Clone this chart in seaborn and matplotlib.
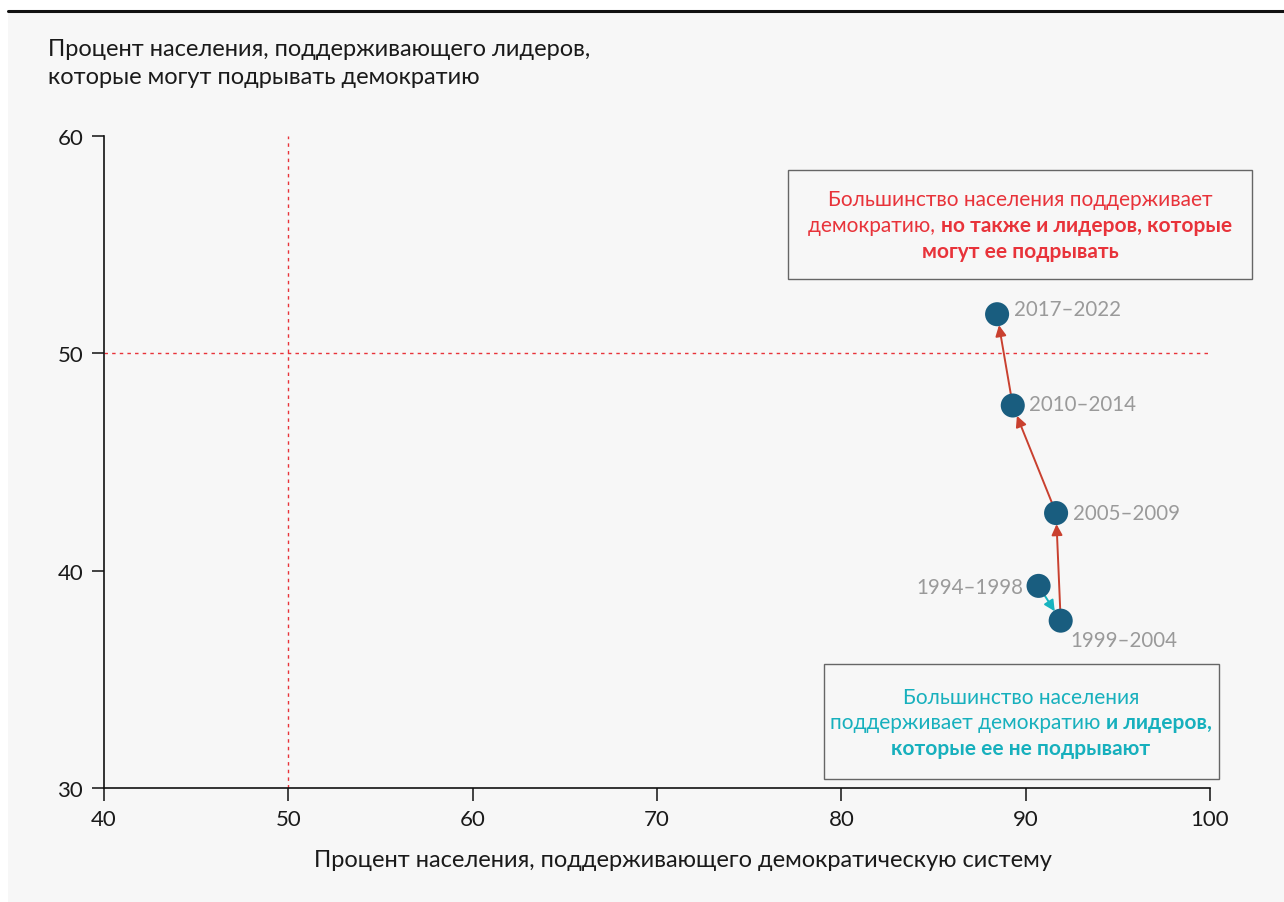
import matplotlib
matplotlib.use("Agg")
import matplotlib.pyplot as plt
import seaborn as sns
import pandas as pd
from matplotlib.patches import Rectangle
from matplotlib.lines import Line2D

# ---- data ----
periods = ["1994–1998", "1999–2004", "2005–2009", "2010–2014", "2017–2022"]
support_democracy = [90.7, 91.9, 91.65, 89.3, 88.45]
support_leaders = [39.3, 37.7, 42.65, 47.6, 51.8]
arrow_colors = ["#17b3bf", "#c9402f", "#c9402f", "#c9402f"]
x_ticks = [40, 50, 60, 70, 80, 90, 100]
y_ticks = [30, 40, 50, 60]

y_title = "Процент населения, поддерживающего лидеров,\nкоторые могут подрывать демократию"
x_title = "Процент населения, поддерживающего демократическую систему"

BG = "#f7f7f7"
RED = "#e8333a"
TEAL = "#17b0bd"
DOT = "#195d7f"
GRAY = "#9a9a9a"

sns.set_theme(style="white")
plt.rcParams["font.family"] = ["Lato", "DejaVu Sans"]

W, H = 1284, 903
fig = plt.figure(figsize=(W / 100, H / 100), dpi=100)
fig.patch.set_facecolor("white")
fig.patches.append(Rectangle((8 / W, 0), 1 - 8 / W, 1 - 13 / H, transform=fig.transFigure,
                             facecolor=BG, edgecolor="none", zorder=-10))
fig.lines.append(Line2D([8 / W, 1], [1 - 12 / H, 1 - 12 / H], transform=fig.transFigure,
                        color="#111111", lw=2.2))

ax = fig.add_axes([104 / W, 1 - 789 / H, (1210 - 104) / W, (789 - 137) / H])
ax.set_facecolor(BG)
ax.set_xlim(40, 100)
ax.set_ylim(30, 60)
ax.set_xticks(x_ticks)
ax.set_yticks(y_ticks)
for s in ["top", "right"]:
    ax.spines[s].set_visible(False)
for s in ["left", "bottom"]:
    ax.spines[s].set_color("#111111")
    ax.spines[s].set_linewidth(1.2)
ax.tick_params(axis="both", direction="out", length=9, width=1.1, color="#111111",
               labelsize=16, labelcolor="#1a1a1a", pad=6, left=True, bottom=True)

# reference lines
ax.plot([50, 50], [30, 60], color=RED, lw=1, ls=(0, (2.5, 3)), zorder=1)
ax.plot([40, 100], [50, 50], color=RED, lw=1, ls=(0, (2.5, 3)), zorder=1)

df = pd.DataFrame({"period": periods, "dem": support_democracy, "lead": support_leaders})

# arrows
for i in range(len(df) - 1):
    ax.annotate("", xy=(df.dem[i + 1], df.lead[i + 1]), xytext=(df.dem[i], df.lead[i]),
                arrowprops=dict(arrowstyle="-|>", color=arrow_colors[i], lw=1.4,
                                shrinkA=0, shrinkB=8, mutation_scale=16),
                zorder=2)

sns.scatterplot(data=df, x="dem", y="lead", ax=ax, s=300, color=DOT, edgecolor="none",
                zorder=3, legend=False)
ax.set_xlabel("")
ax.set_ylabel("")

# period labels (offsets in points)
offsets = {
    "1994–1998": (-11, -1, "right"),
    "1999–2004": (7, -14, "left"),
    "2005–2009": (12, 0, "left"),
    "2010–2014": (12, 1, "left"),
    "2017–2022": (12, 4, "left"),
}
for _, r in df.iterrows():
    dx, dy, ha = offsets[r.period]
    ax.annotate(r.period, (r.dem, r.lead), xytext=(dx, dy), textcoords="offset points",
                ha=ha, va="center", fontsize=14.8, color=GRAY)

# axis titles
fig.text(48 / W, 1 - 39 / H, y_title, ha="left", va="top", fontsize=17, color="#1a1a1a",
         linespacing=1.42)
fig.text(683 / W, 1 - 861 / H, x_title, ha="center", va="center", fontsize=17, color="#1a1a1a")

# boxes
for (x0, y0, x1, y1) in [(788, 171, 1252, 280), (824, 665, 1219, 780)]:
    fig.patches.append(Rectangle((x0 / W, 1 - y1 / H), (x1 - x0) / W, (y1 - y0) / H,
                                 transform=fig.transFigure, facecolor="none",
                                 edgecolor="#666666", lw=1.0, zorder=5))

fig.canvas.draw()
renderer = fig.canvas.get_renderer()


def segline(cx, cy, segs, color, size=15):
    texts = []
    for s, bold in segs:
        t = fig.text(0, 1 - cy / H, s, ha="left", va="center", fontsize=size, color=color,
                     fontweight="bold" if bold else "normal")
        texts.append(t)
    widths = [t.get_window_extent(renderer).width for t in texts]
    total = sum(widths)
    x = cx - total / 2
    for t, w in zip(texts, widths):
        t.set_x(x / W)
        x += w


red_lines = [
    [("Большинство населения поддерживает", False)],
    [("демократию, ", False), ("но также и лидеров, которые", True)],
    [("могут ее подрывать", True)],
]
for yy, segs in zip([200, 226, 252], red_lines):
    segline(1020, yy, segs, RED)

teal_lines = [
    [("Большинство населения", False)],
    [("поддерживает демократию ", False), ("и лидеров,", True)],
    [("которые ее не подрывают", True)],
]
for yy, segs in zip([698, 723, 749], teal_lines):
    segline(1021, yy, segs, TEAL)

fig.savefig("out.png", dpi=100, facecolor=fig.get_facecolor())
